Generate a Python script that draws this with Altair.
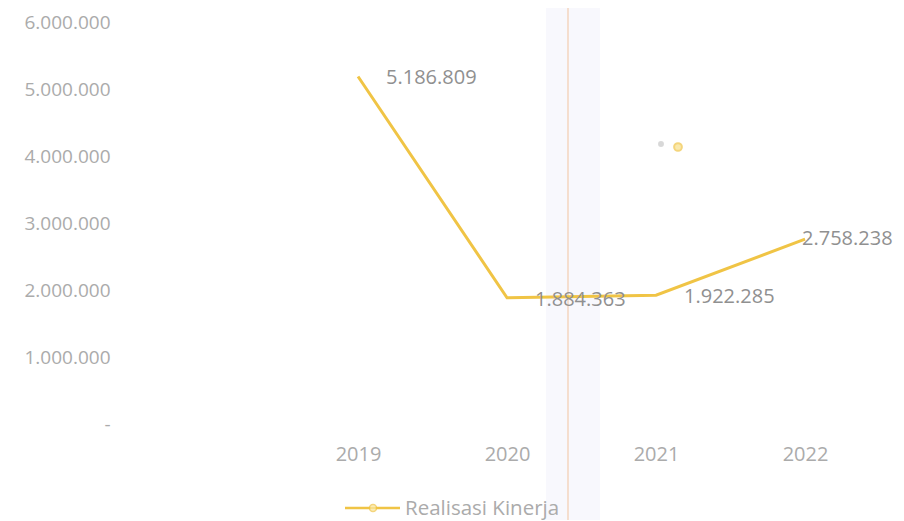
import altair as alt
import pandas as pd

years = [2019, 2020, 2021, 2022]
values = [5186809, 1884363, 1922285, 2758238]
series_name = "Realisasi Kinerja"
y_ticks = [0, 1000000, 2000000, 3000000, 4000000, 5000000, 6000000]

df = pd.DataFrame({"year": years, "value": values})

GOLD = "#F0C445"
AXIS_GREY = "#ABABAB"
LABEL_GREY = "#909090"
FONT = "Open Sans"

W, H = 755, 402

x = alt.X("year:Q", scale=alt.Scale(domain=[2017.389, 2022.456], nice=False, zero=False),
          axis=alt.Axis(values=years, format="d", title=None, grid=False, domain=False, ticks=False,
                        labelPadding=20, labelFontSize=20, labelColor=AXIS_GREY, labelFont=FONT))
y = alt.Y("value:Q", scale=alt.Scale(domain=[0, 6000000], nice=False),
          axis=alt.Axis(values=y_ticks, title=None, grid=False, domain=False, ticks=False,
                        labelPadding=8, labelFontSize=19, labelColor=AXIS_GREY, labelFont=FONT,
                        labelExpr="datum.value == 0 ? '-' : replace(replace(format(datum.value, ',d'), ',', '.'), ',', '.')"))

base = alt.Chart(df).transform_calculate(
    lbl="replace(replace(format(datum.value, ',d'), ',', '.'), ',', '.')"
)

line = base.mark_line(color=GOLD, strokeWidth=3).encode(x=x, y=y)

labels_a = base.transform_filter("datum.year < 2022").mark_text(
    align="left", baseline="middle", dx=28, dy=2, fontSize=20, font=FONT, color=LABEL_GREY
).encode(x="year:Q", y="value:Q", text="lbl:N")
labels_b = base.transform_filter("datum.year == 2022").mark_text(
    align="left", baseline="middle", dx=-3, dy=0, fontSize=20, font=FONT, color=LABEL_GREY
).encode(x="year:Q", y="value:Q", text="lbl:N")

# scan artifacts (decoration)
art = alt.Chart(pd.DataFrame({"a": [0]}))
vline = art.mark_rule(color="#F3CDB0", strokeWidth=1.2).encode(
    x=alt.value(450), y=alt.value(-20), y2=alt.value(510))
band = art.mark_rect(color="#F3F4FB", opacity=0.6).encode(
    x=alt.value(428), x2=alt.value(482), y=alt.value(-20), y2=alt.value(510))
dot1 = art.mark_point(filled=True, color="#C8C8C8", size=35).encode(x=alt.value(543), y=alt.value(122))
dot2 = art.mark_point(filled=True, fill="#F9E08A", stroke=GOLD, strokeWidth=2, size=60).encode(
    x=alt.value(560), y=alt.value(125))

# legend
leg_line = art.mark_rule(color=GOLD, strokeWidth=2.5).encode(
    x=alt.value(227), x2=alt.value(282), y=alt.value(486))
leg_pt = art.mark_point(filled=True, fill="#FBE9A6", stroke=GOLD, strokeWidth=1.5, size=50).encode(
    x=alt.value(255), y=alt.value(486))
leg_txt = art.mark_text(align="left", baseline="middle", fontSize=20.5, font=FONT, color=AXIS_GREY).encode(
    x=alt.value(287), y=alt.value(487), text=alt.value(series_name))

chart = alt.layer(band, vline, line, labels_a, labels_b, dot1, dot2, leg_line, leg_pt, leg_txt).properties(
    width=W, height=H,
    background="white",
    autosize=alt.AutoSizeParams(type="none"),
    padding={"left": 110, "top": 14, "right": 23, "bottom": 96},
).configure_view(strokeWidth=0, stroke=None)

chart.save("out.html", embed_options={"renderer": "svg", "actions": False})
